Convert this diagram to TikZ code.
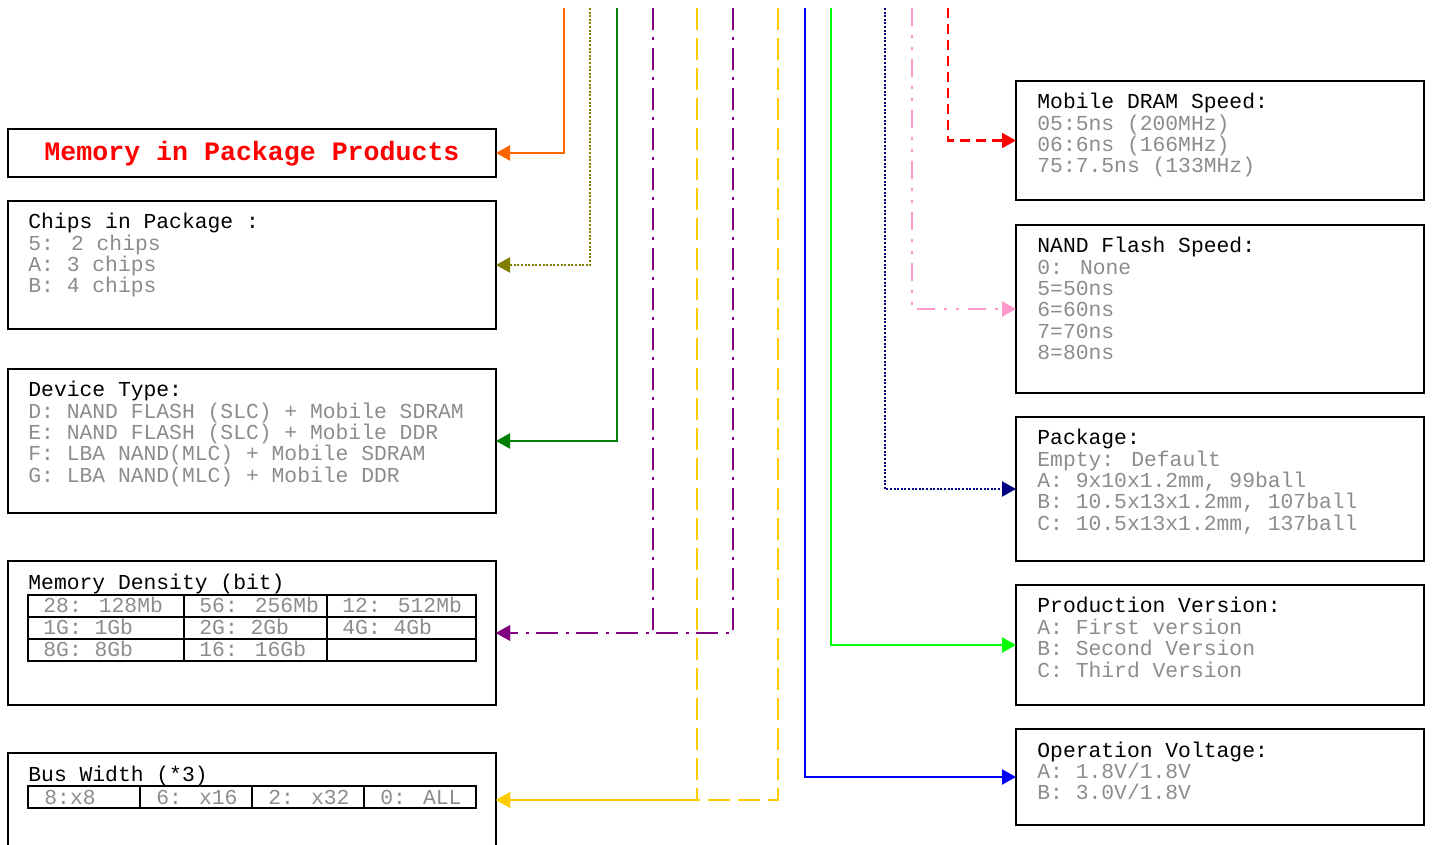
\documentclass[tikz,border=0pt]{standalone}
\usepackage{fontspec}
\setmainfont{Liberation Mono}
\usetikzlibrary{arrows.meta}
\definecolor{txtgray}{HTML}{8C8C8C}
\definecolor{cOrange}{HTML}{FF6600}
\definecolor{cOlive}{HTML}{808000}
\definecolor{cDkGreen}{HTML}{008000}
\definecolor{cPurple}{HTML}{800080}
\definecolor{cGold}{HTML}{FFCC00}
\definecolor{cBlue}{HTML}{0000FF}
\definecolor{cLime}{HTML}{00FF00}
\definecolor{cNavy}{HTML}{000080}
\definecolor{cPink}{HTML}{FF99CC}
\definecolor{cRed}{HTML}{FF0000}
\newcommand\txtfont{\fontsize{10.67pt}{10.67pt}\selectfont}
\tikzset{
  box/.style={draw, line width=1pt, rectangle, inner sep=0pt, outer sep=0pt},
  lbox/.style={box, minimum width=244pt},
  rbox/.style={box, minimum width=204pt},
  hd/.style={anchor=base west, inner sep=0pt, font=\txtfont},
  items/.style={anchor=base west, inner sep=0pt, align=left, font=\txtfont, text=txtgray},
  cell/.style={anchor=base west, inner sep=0pt, font=\txtfont, text=txtgray},
  grid/.style={line width=1pt},
  conn/.style={line width=1.1pt, -{Triangle[length=7pt,width=7.5pt]}},
}
\begin{document}
\begin{tikzpicture}[x=0.5pt,y=-0.5pt]
\useasboundingbox (0,0) rectangle (1432,845);
% left boxes (items nodes are anchored at the baseline of their last line)
\node[lbox, minimum height=24pt] (title) at (252,153) {};
\node[anchor=base, inner sep=0pt, text=cRed, font=\fontsize{13.3pt}{13.3pt}\selectfont\bfseries] (titleT) at (252,161) {Memory in Package Products};
\node[lbox, minimum height=64pt] (chips) at (252,265) {};
\node[hd] (chipsH) at (28,229) {Chips in Package :};
\node[items] (chipsL) at (28,293) {5: 2 chips\\A: 3 chips\\B: 4 chips};
\node[lbox, minimum height=72pt] (device) at (252,441) {};
\node[hd] (deviceH) at (28,397) {Device Type:};
\node[items] (deviceL) at (28,482.3) {D: NAND FLASH (SLC) + Mobile SDRAM\\E: NAND FLASH (SLC) + Mobile DDR\\F: LBA NAND(MLC) + Mobile SDRAM\\G: LBA NAND(MLC) + Mobile DDR};
\node[lbox, minimum height=72pt] (density) at (252,633) {};
\node[hd] (densityH) at (28,589) {Memory Density (bit)};
\draw[grid] (28,595) rectangle (476,661);
\draw[grid] (28,617) -- (476,617) (28,639) -- (476,639) (184,595) -- (184,661) (327,595) -- (327,661);
\node[cell] (d11) at (43,613) {28: 128Mb};
\node[cell] (d12) at (199,613) {56: 256Mb};
\node[cell] (d13) at (342,613) {12: 512Mb};
\node[cell] (d21) at (43,635) {1G: 1Gb};
\node[cell] (d22) at (199,635) {2G: 2Gb};
\node[cell] (d23) at (342,635) {4G: 4Gb};
\node[cell] (d31) at (43,657) {8G: 8Gb};
\node[cell] (d32) at (199,657) {16: 16Gb};
\node[lbox, minimum height=47pt] (bus) at (252,800) {};
\node[hd] (busH) at (28,781) {Bus Width (*3)};
\draw[grid] (28,786) rectangle (476,808);
\draw[grid] (140,786) -- (140,808) (252,786) -- (252,808) (364,786) -- (364,808);
\node[cell] (b1) at (44,804) {8:x8};
\node[cell] (b2) at (156,804) {6: x16};
\node[cell] (b3) at (268,804) {2: x32};
\node[cell] (b4) at (380,804) {0: ALL};
% right boxes
\node[rbox, minimum height=59.5pt] (dram) at (1220,140.5) {};
\node[hd] (dramH) at (1037,109) {Mobile DRAM Speed:};
\node[items] (dramL) at (1037,173) {05:5ns (200MHz)\\06:6ns (166MHz)\\75:7.5ns (133MHz)};
\node[rbox, minimum height=84pt] (nand) at (1220,309) {};
\node[hd] (nandH) at (1037,253) {NAND Flash Speed:};
\node[items] (nandL) at (1037,359.6) {0: None\\5=50ns\\6=60ns\\7=70ns\\8=80ns};
\node[rbox, minimum height=72pt] (pkg) at (1220,489) {};
\node[hd] (pkgH) at (1037,445) {Package:};
\node[items] (pkgL) at (1037,530.3) {Empty: Default\\A: 9x10x1.2mm, 99ball\\B: 10.5x13x1.2mm, 107ball\\C: 10.5x13x1.2mm, 137ball};
\node[rbox, minimum height=60pt] (prod) at (1220,645) {};
\node[hd] (prodH) at (1037,613) {Production Version:};
\node[items] (prodL) at (1037,677) {A: First version\\B: Second Version\\C: Third Version};
\node[rbox, minimum height=48pt] (volt) at (1220,777) {};
\node[hd] (voltH) at (1037,757) {Operation Voltage:};
\node[items] (voltL) at (1037,799.7) {A: 1.8V/1.8V\\B: 3.0V/1.8V};
% connector origins
\coordinate (s1) at (564,8);
\coordinate (s2) at (590,8);
\coordinate (s3) at (617,8);
\coordinate (s4a) at (653,8);
\coordinate (s5a) at (697,8);
\coordinate (s4b) at (733,8);
\coordinate (s5b) at (778,8);
\coordinate (s6) at (805,8);
\coordinate (s7) at (831,8);
\coordinate (s8) at (885,8);
\coordinate (s9) at (912,8);
\coordinate (s10) at (948,8);
% connectors
\draw[conn, cOrange] (s1) |- (title.east);
\draw[conn, cOlive, dash pattern=on 1pt off 0.8pt] (s2) |- (chips.east);
\draw[conn, cDkGreen] (s3) |- (device.east);
\draw[conn, cPurple, dash pattern=on 11pt off 3.75pt on 1.5pt off 3.75pt] (s4a) |- (density.east);
\draw[conn, cPurple, dash pattern=on 11pt off 3.75pt on 1.5pt off 3.75pt] (s4b) |- (density.east);
\draw[conn, cGold, dash pattern=on 11pt off 4pt] (s5a) |- (bus.east);
\draw[conn, cGold, dash pattern=on 11pt off 4pt] (s5b) |- (bus.east);
\draw[conn, cBlue] (s6) |- (volt.west);
\draw[conn, cLime] (s7) |- (prod.west);
\draw[conn, cNavy, dash pattern=on 1pt off 0.8pt] (s8) |- (pkg.west);
\draw[conn, cPink, dash pattern=on 9pt off 4.5pt on 1.5pt off 4.5pt on 1.5pt off 4.5pt] (s9) |- (nand.west);
\draw[conn, cRed, dash pattern=on 5pt off 3pt] (s10) |- (dram.west);
\end{tikzpicture}
\end{document}
